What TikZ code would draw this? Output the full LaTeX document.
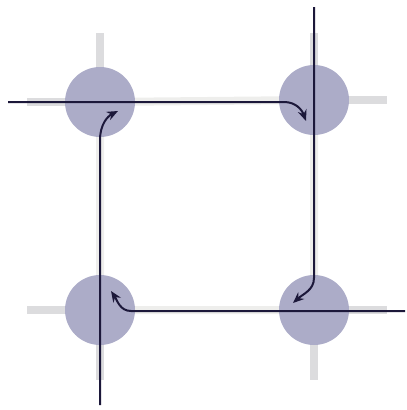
\documentclass[tikz,border=0pt]{standalone}
\usetikzlibrary{arrows.meta}

\definecolor{JunctionGrey}{RGB}{172,172,200}
\definecolor{StubGrey}{RGB}{220,220,222}
\definecolor{LaneGrey}{RGB}{238,238,236}
\definecolor{RouteInk}{RGB}{28,24,58}

\begin{document}
\begin{tikzpicture}[x=1pt, y=-1pt,
                junction/.style={circle, fill=JunctionGrey, minimum size=70pt, inner sep=0pt},
                stub/.style={StubGrey, line width=8pt},
                lane/.style={LaneGrey, line width=8pt},
                route/.style={RouteInk, line width=2pt, -{Stealth[length=11pt, width=9pt]}}]

                \useasboundingbox (0,0) rectangle (407,410);

                % Junction centres
                \coordinate (cnw) at (100,102);
                \coordinate (cne) at (314,100);
                \coordinate (csw) at (100,310);
                \coordinate (cse) at (314,310);

                % Lanes between the junctions
                \draw[lane] (cnw) -- (cne) -- (cse) -- (csw) -- cycle;

                % Outer stubs
                \draw[stub] (cnw) -- ++(-73,0);
                \draw[stub] (cnw) -- ++(0,-69);
                \draw[stub] (cne) -- ++(73,0);
                \draw[stub] (cne) -- ++(0,-67);
                \draw[stub] (csw) -- ++(-73,0);
                \draw[stub] (csw) -- ++(0,70);
                \draw[stub] (cse) -- ++(73,0);
                \draw[stub] (cse) -- ++(0,70);

                % Junctions
                \node[junction] (nw) at (cnw) {};
                \node[junction] (ne) at (cne) {};
                \node[junction] (sw) at (csw) {};
                \node[junction] (se) at (cse) {};

                % Entry points
                \coordinate (inW) at (8,102);
                \coordinate (inN) at (314,7);
                \coordinate (inE) at (405,311);
                \coordinate (inS) at (100,405);

                % Turns into the junctions
                \coordinate (tipNE) at (306,121);
                \coordinate (tipSE) at (293,303);
                \coordinate (tipSW) at (111,291);
                \coordinate (tipNW) at (118,111);

                % Routes
                \draw[route] (inW) -- (284,102) .. controls (296,102) and (302,110) .. (tipNE);
                \draw[route] (inN) -- (314,278) .. controls (314,290) and (303,294) .. (tipSE);
                \draw[route] (inE) -- (131,311) .. controls (120,311) and (117,300) .. (tipSW);
                \draw[route] (inS) -- (100,140) .. controls (100,124) and (108,116) .. (tipNW);
            \end{tikzpicture}
\end{document}
